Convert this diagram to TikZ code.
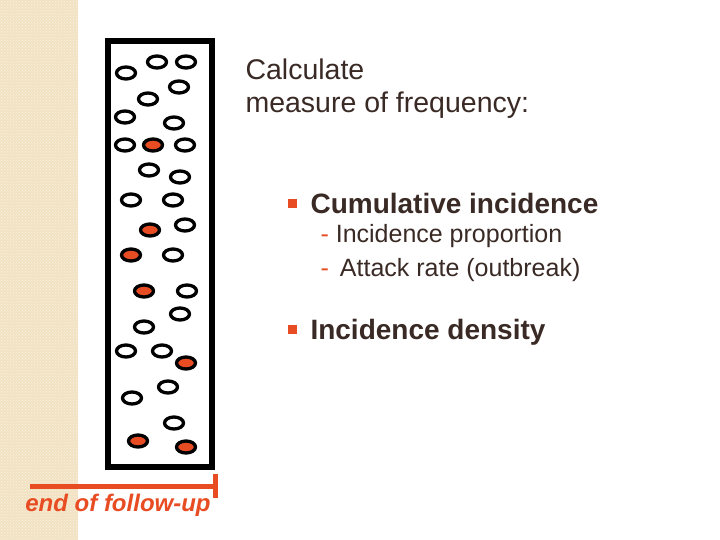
\documentclass[tikz,border=0pt]{standalone}
\usepackage{fontspec}
\setmainfont{Liberation Sans}
\usetikzlibrary{patterns,shapes.geometric}
\definecolor{txt}{HTML}{3A2A25}
\definecolor{org}{HTML}{E84C22}
\definecolor{beige}{HTML}{F2E2C2}
\begin{document}
\begin{tikzpicture}[x=1pt,y=-1pt,
  cell/.style={draw=black,line width=3.3pt,fill=white,ellipse,minimum width=19pt,minimum height=12pt,inner sep=0pt},
  sick/.style={cell,fill=org},
  bul/.style={fill=org,minimum size=9pt,inner sep=0pt},
  head/.style={anchor=base west,text=txt,font=\fontsize{28.5}{32}\selectfont},
  item/.style={anchor=base west,text=txt,font=\fontsize{28}{32}\selectfont\bfseries},
  sub/.style={anchor=base west,text=txt,font=\fontsize{25}{28}\selectfont}]
\useasboundingbox (0,0) rectangle (720,540);
\fill[white] (0,0) rectangle (720,540);
\fill[beige] (0,0) rectangle (78,540);
\fill[pattern=crosshatch dots,pattern color=white!60!beige] (0,0) rectangle (78,540);
\draw[line width=6pt] (108,41) rectangle (212,467);
\foreach \x/\y [count=\i] in {126/73,157/62,186/62,148/99,179/87,125/117,174/123,125/145,185/145,149/170,180/177,131/200,173/200,185/225,173/255,187/291,180/314,144/327,126/351,162/351,168/387,132/398,174/423}
  \node[cell] (c\i) at (\x,\y) {};
\foreach \x/\y [count=\i] in {153/145,150/230,131/255,144/291,186/363,138/441,186/447}
  \node[sick] (s\i) at (\x,\y) {};
\coordinate (fa) at (30,486);
\coordinate (fb) at (215,486);
\coordinate (ta) at (215,474);
\coordinate (tb) at (215,498);
\draw[org,line width=5pt] (fa) -- (fb);
\draw[org,line width=5pt] (ta) -- (tb);
\node[text=org,font=\fontsize{24}{26}\selectfont\bfseries\itshape] (end) at (118,505) {end of follow-up};
\node[head] (h1) at (242,80) {Calculate};
\node[head] (h2) at (242,113) {measure of frequency:};
\node[bul] (b1) at (292,204) {};
\node[item] (i1) at (307,214) {Cumulative incidence};
\node[sub] (s1) at (317,243) {{\color{org}-} Incidence proportion};
\node[sub] (s2) at (317,276) {{\color{org}-} \,Attack rate (outbreak)};
\node[bul] (b2) at (292,329) {};
\node[item] (i2) at (307,339) {Incidence density};
\end{tikzpicture}
\end{document}
